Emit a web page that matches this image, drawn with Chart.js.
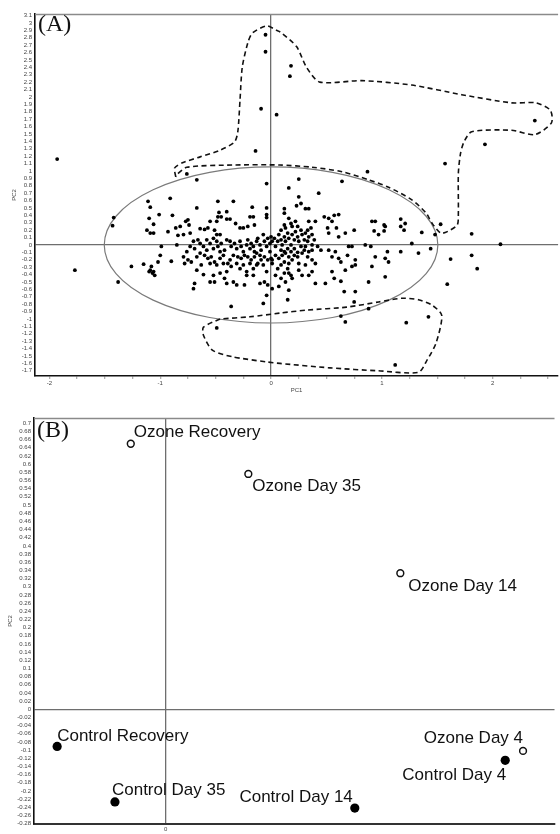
<!DOCTYPE html>
<html>
<head>
<meta charset="utf-8">
<script src="https://cdn.jsdelivr.net/npm/chart.js@4.4.0/dist/chart.umd.min.js"></script>
<style>
html, body { margin: 0; padding: 0; background: #fff; }
#wrapA { position: absolute; left: 0; top: 0; width: 560px; height: 400px; }
#wrapB { position: absolute; left: 0; top: 400px; width: 560px; height: 434px; }
</style>
</head>
<body>
<div id="wrapA"><canvas id="chartA" width="560" height="400"></canvas></div>
<div id="wrapB"><canvas id="chartB" width="560" height="434"></canvas></div>
<script>
// (A) PCA scores - PC1 / PC2
var pc1A = [
  -0.67,-0.04,0.25,0.16,0.64,0.43,0.25,-0.91,-1.11,-1.09,-0.48,-0.34,-0.17,-0.04,0.12,0.23,0.27,0.31,0.34,-0.67,
  -0.40,-0.47,-0.45,-0.48,-1.01,-0.89,-1.42,-1.43,-1.10,-1.06,-1.12,-1.09,-1.06,-0.93,-0.86,-0.82,-0.77,-0.75,-0.74,-0.79,
  -0.84,-0.73,-0.64,-0.60,-0.57,-0.51,-0.49,-0.46,-0.55,-0.49,-0.40,-0.37,-0.32,-0.28,-0.25,-0.21,-0.19,-0.16,-0.15,-0.04,
  -0.04,0.12,0.16,0.18,0.19,0.13,0.09,0.12,0.22,0.24,0.27,0.34,0.33,0.40,0.48,0.52,0.57,0.61,0.55,0.51,
  0.59,0.52,0.61,0.67,0.75,0.91,0.94,1.02,1.03,1.17,1.21,1.17,1.20,1.36,1.48,0.93,0.97,1.02,0.85,0.90,
  1.27,1.44,1.33,1.17,1.05,1.03,1.06,0.94,0.91,1.03,0.76,0.70,0.73,0.69,0.61,0.63,0.55,0.58,0.52,0.45,
  0.42,0.37,0.37,0.34,0.31,0.33,0.37,0.40,0.37,0.34,0.31,0.25,0.24,0.21,0.19,0.16,0.15,0.16,0.19,0.13,
  0.18,0.25,0.28,0.40,0.49,0.55,0.57,0.63,0.67,0.73,0.76,0.88,0.66,0.76,0.75,0.88,-0.40,-0.37,-0.36,-0.33,
  -0.31,-0.28,-0.27,-0.25,-0.22,-0.21,-0.19,-0.18,-0.16,-0.15,-0.13,-0.12,-0.10,-0.09,-0.07,-0.06,-0.04,-0.03,-0.01,-0.01,
  0.00,0.01,0.03,0.04,0.06,0.07,0.09,0.10,0.12,0.13,0.15,0.16,0.18,0.19,0.21,0.22,0.24,0.25,0.27,0.28,
  0.30,0.31,0.33,0.34,0.36,0.37,0.39,0.00,0.01,-0.03,-0.06,-0.09,-0.12,-0.15,-0.18,-0.21,-0.24,-0.27,-0.30,-0.34,
  -0.37,-0.39,-0.36,-0.31,-0.28,-0.25,-0.22,-0.19,-0.16,-0.13,-0.07,-0.04,0.01,0.04,0.07,0.10,0.13,0.16,0.09,0.12,
  0.06,0.09,0.12,0.15,0.18,0.21,0.24,0.28,0.30,-0.10,-0.13,-0.49,-0.48,-0.46,-0.52,-0.55,-0.58,-0.61,-0.64,-0.66,
  -0.69,-0.64,-0.60,-0.57,-0.54,-0.51,-0.46,-0.43,-0.42,-0.45,-0.52,-0.58,-0.70,-0.73,-0.76,-0.79,-0.75,-0.72,-0.78,-0.67,
  -0.63,-0.55,-0.49,-0.43,-0.40,-0.46,-0.52,-0.61,-0.67,-0.69,-0.70,-0.55,-0.51,-0.42,-0.40,-0.34,-0.31,-0.24,-0.22,-0.16,
  -0.10,-0.06,-0.03,-0.07,-0.04,0.01,0.07,0.16,0.15,-0.36,0.04,0.09,0.12,-1.00,-0.99,-0.85,-0.90,-1.02,-1.15,-1.26,
  -1.08,-1.09,-1.06,-1.05,-1.07,-1.10,-1.38,
  -1.93,-0.05,-0.05,-0.09,0.05,-0.14,-0.76,0.18,0.17,2.38,1.93,1.57,0.87,2.07,1.81,1.81,1.86,1.62,1.59,1.53,
  0.63,0.67,1.22,1.42,1.12,-0.49,-1.77
];
var pc2A = [
  0.88,0.83,0.89,0.77,0.86,0.70,0.65,0.63,0.59,0.51,0.59,0.59,0.51,0.50,0.49,0.53,0.56,0.49,0.49,0.50,
  0.45,0.44,0.38,0.38,0.41,0.40,0.37,0.26,0.36,0.28,0.20,0.16,0.16,0.18,0.23,0.25,0.32,0.34,0.27,0.14,
  0.13,0.16,0.22,0.21,0.23,0.20,0.14,0.14,0.32,0.32,0.35,0.35,0.29,0.23,0.23,0.25,0.38,0.38,0.27,0.41,
  0.37,0.43,0.36,0.29,0.25,0.23,0.20,0.27,0.32,0.25,0.20,0.32,0.20,0.32,0.38,0.36,0.40,0.41,0.32,0.23,
  0.23,0.16,0.11,0.16,0.20,0.32,0.32,0.27,0.25,0.35,0.29,0.25,0.20,0.17,0.14,0.19,0.14,0.19,0.00,-0.02,
  0.02,-0.05,-0.11,-0.09,-0.09,-0.18,-0.23,-0.16,-0.29,-0.43,-0.20,-0.02,-0.02,-0.14,-0.18,-0.23,-0.16,-0.09,-0.07,-0.07,
  -0.02,0.00,-0.07,-0.09,-0.02,-0.16,-0.20,-0.25,-0.36,-0.41,-0.27,-0.25,-0.16,-0.14,-0.20,-0.25,-0.32,-0.38,-0.45,-0.50,
  -0.41,-0.34,-0.41,-0.52,-0.52,-0.36,-0.45,-0.49,-0.34,-0.29,-0.27,-0.50,-0.63,-0.63,-0.77,-0.86,0.07,0.05,-0.02,0.02,
  -0.05,0.05,-0.02,-0.09,0.00,0.07,-0.05,0.02,-0.02,-0.09,0.05,0.09,0.00,-0.07,0.14,0.05,-0.02,0.09,0.02,-0.09,
  0.11,0.05,0.09,-0.02,0.05,0.14,0.07,0.00,0.11,0.05,0.16,0.09,0.00,0.14,0.07,0.18,0.11,0.05,-0.02,0.14,
  0.07,0.16,0.05,0.11,0.23,0.14,0.07,-0.18,-0.25,-0.20,-0.16,-0.20,-0.25,-0.16,-0.20,-0.16,-0.14,-0.18,-0.16,-0.14,
  -0.20,-0.25,-0.29,-0.25,-0.32,-0.27,-0.36,-0.25,-0.32,-0.27,-0.27,-0.36,-0.20,-0.14,-0.18,-0.14,-0.11,-0.16,-0.27,-0.23,
  -0.32,-0.07,-0.09,-0.05,-0.09,-0.05,-0.10,-0.11,-0.07,-0.14,-0.11,0.05,-0.02,-0.09,-0.05,0.02,-0.07,-0.02,0.02,0.07,
  -0.05,-0.11,-0.14,-0.18,-0.16,-0.23,-0.18,-0.14,-0.07,0.02,0.09,0.07,0.05,-0.02,-0.09,-0.16,-0.20,-0.23,-0.25,-0.16,
  -0.27,-0.25,-0.27,-0.25,-0.36,-0.38,-0.41,-0.40,-0.34,-0.52,-0.59,-0.50,-0.50,-0.45,-0.52,-0.50,-0.54,-0.54,-0.41,-0.41,
  -0.52,-0.50,-0.54,-0.79,-0.68,-0.59,-0.56,-0.61,-0.74,-0.83,-0.41,-0.45,-0.38,-0.14,-0.02,0.00,-0.22,-0.23,-0.26,-0.29,
  -0.29,-0.34,-0.36,-0.41,-0.38,-0.36,-0.50,
  1.16,2.84,2.61,1.84,1.76,1.27,0.96,2.42,2.28,1.68,1.36,1.10,0.99,0.01,0.15,-0.14,-0.32,-0.19,-0.53,0.28,
  -0.96,-1.04,-1.05,-0.97,-1.62,-1.12,-0.34
];

// group outlines drawn on (A)
var outlineUpper = [
  [-0.86,0.92],[-0.87,1.04],[-0.80,1.11],[-0.64,1.19],[-0.46,1.28],[-0.33,1.39],[-0.30,1.53],[-0.28,1.96],
  [-0.26,2.40],[-0.21,2.73],[-0.17,2.86],[-0.04,2.96],[0.05,2.90],[0.08,2.88],[0.23,2.68],[0.32,2.40],
  [0.44,2.20],[0.82,2.22],[1.27,2.16],[1.72,2.03],[2.17,1.92],[2.39,1.92],[2.52,1.82],[2.53,1.65],
  [2.38,1.49],[2.17,1.55],[1.81,1.53],[1.74,1.39],[1.71,1.24],[1.69,0.97],[1.69,0.43],[1.68,0.27],
  [1.59,0.18],[1.53,0.16],[1.45,0.30],[1.40,0.43],[1.27,0.61],[1.06,0.78],[0.88,0.88],[0.64,0.99],
  [0.37,1.05],[0.08,1.08],[-0.35,1.08],[-0.76,1.05],[-0.85,0.95],[-0.86,0.92]
];
var outlineLower = [
  [-0.46,-1.00],[-0.61,-1.11],[-0.61,-1.22],[-0.53,-1.42],[-0.35,-1.51],[-0.04,-1.58],[0.08,-1.60],[0.53,-1.66],
  [0.97,-1.70],[1.33,-1.72],[1.41,-1.55],[1.49,-1.32],[1.54,-0.95],[1.45,-0.81],[1.33,-0.74],[1.18,-0.72],
  [0.97,-0.77],[0.68,-0.84],[0.32,-0.88],[0.08,-0.92],[-0.19,-0.97],[-0.46,-1.00]
];
var ellipseA = { cx: 0, cy: 0, rx: 1.505, ry: 1.054 };

var xTicksA = [-2,-1.75,-1.5,-1.25,-1,-0.75,-0.5,-0.25,0,0.25,0.5,0.75,1,1.25,1.5,1.75,2,2.25,2.5];
var yTicksA = [3.1,3,2.9,2.8,2.7,2.6,2.5,2.4,2.3,2.2,2.1,2,1.9,1.8,1.7,1.6,1.5,1.4,1.3,1.2,1.1,1,
  0.9,0.8,0.7,0.6,0.5,0.4,0.3,0.2,0.1,0,-0.1,-0.2,-0.3,-0.4,-0.5,-0.6,-0.7,-0.8,-0.9,-1,
  -1.1,-1.2,-1.3,-1.4,-1.5,-1.6,-1.7];

// (B) group centroids
var namesB = ['Ozone Recovery','Ozone Day 35','Ozone Day 14','Ozone Day 4',
              'Control Recovery','Control Day 35','Control Day 14','Control Day 4'];
var groupB = ['ozone','ozone','ozone','ozone','control','control','control','control'];
var pc1B = [-0.088, 0.209, 0.593, 0.903, -0.274, -0.128, 0.478, 0.858];
var pc2B = [0.650, 0.576, 0.333, -0.102, -0.091, -0.227, -0.242, -0.125];
// where each name sits next to its point
var labelPlaceB = [
  {align:'left', dx:3, dy:-11}, {align:'left', dx:4, dy:12}, {align:'left', dx:8, dy:13}, {align:'right', dx:0, dy:-13},
  {align:'left', dx:0, dy:-10}, {align:'left', dx:-3, dy:-12}, {align:'right', dx:-2, dy:-11}, {align:'right', dx:1, dy:15}
];
var xTicksB = [0];
var yTicksB = [0.7,0.68,0.66,0.64,0.62,0.6,0.58,0.56,0.54,0.52,0.5,0.48,0.46,0.44,0.42,0.4,0.38,0.36,0.34,0.32,
  0.3,0.28,0.26,0.24,0.22,0.2,0.18,0.16,0.14,0.12,0.1,0.08,0.06,0.04,0.02,0,
  -0.02,-0.04,-0.06,-0.08,-0.1,-0.12,-0.14,-0.16,-0.18,-0.2,-0.22,-0.24,-0.26,-0.28];

var tickFont = { family: '"Liberation Sans", Arial, sans-serif', size: 6 };
var zeroLine = function(c) { return c.tick && c.tick.value === 0 ? '#6e6e6e' : 'rgba(0,0,0,0)'; };

// top frame line and the (A)/(B) tag
var framePlugin = {
  id: 'frame',
  afterDraw: function(chart, args, opts) {
    var ctx = chart.ctx, a = chart.chartArea;
    ctx.save();
    ctx.strokeStyle = '#8a8a8a';
    ctx.lineWidth = 1.3;
    ctx.beginPath();
    ctx.moveTo(a.left, a.top + 0.5);
    ctx.lineTo(a.right, a.top + 0.5);
    ctx.stroke();
    ctx.fillStyle = '#111';
    ctx.font = '24px "Liberation Serif", "Times New Roman", serif';
    ctx.textAlign = 'left';
    ctx.textBaseline = 'alphabetic';
    ctx.fillText(opts.tag, a.left + 3, a.top + opts.base);
    ctx.restore();
  }
};

var ellipsePlugin = {
  id: 'ellipse',
  beforeDatasetsDraw: function(chart) {
    var xs = chart.scales.x, ys = chart.scales.y, ctx = chart.ctx;
    var cx = xs.getPixelForValue(ellipseA.cx), cy = ys.getPixelForValue(ellipseA.cy);
    var rx = Math.abs(xs.getPixelForValue(ellipseA.cx + ellipseA.rx) - cx);
    var ry = Math.abs(ys.getPixelForValue(ellipseA.cy + ellipseA.ry) - cy);
    ctx.save();
    ctx.strokeStyle = '#7a7a7a';
    ctx.lineWidth = 1.2;
    ctx.beginPath();
    ctx.ellipse(cx, cy, rx, ry, 0, 0, Math.PI * 2);
    ctx.stroke();
    ctx.restore();
  }
};

var pointsA = pc1A.map(function(v, i) { return { x: v, y: pc2A[i] }; });
var toXY = function(p) { return { x: p[0], y: p[1] }; };

new Chart(document.getElementById('chartA').getContext('2d'), {
  type: 'scatter',
  data: {
    datasets: [
      { data: pointsA, pointRadius: 1.9, pointBackgroundColor: '#000', pointBorderWidth: 0, pointHoverRadius: 0 },
      { data: outlineUpper.map(toXY), showLine: true, pointRadius: 0, borderColor: '#111', borderWidth: 1.6,
        borderDash: [5, 3.5], tension: 0.25, fill: false },
      { data: outlineLower.map(toXY), showLine: true, pointRadius: 0, borderColor: '#111', borderWidth: 1.6,
        borderDash: [5, 3.5], tension: 0.25, fill: false }
    ]
  },
  options: {
    responsive: false,
    animation: false,
    devicePixelRatio: 1,
    layout: { padding: { top: 14, right: 0, left: 0, bottom: 0 } },
    plugins: { legend: { display: false }, tooltip: { enabled: false }, frame: { tag: '(A)', base: 17 } },
    scales: {
      x: {
        type: 'linear', min: -2.13, max: 2.59,
        afterFit: function(s) { s.height = 24; },
        afterBuildTicks: function(s) { s.ticks = xTicksA.map(function(v) { return { value: v }; }); },
        ticks: { autoSkip: false, maxRotation: 0, padding: 1, font: tickFont, color: '#444',
          callback: function(v) { return Number.isInteger(v) ? String(v) : ''; } },
        grid: { color: zeroLine, lineWidth: 1.3, tickColor: '#b0b0b0', tickLength: 3 },
        border: { color: '#111', width: 1.6 },
        title: { display: true, text: 'PC1', font: tickFont, color: '#444', padding: { top: 0, bottom: 6 } }
      },
      y: {
        type: 'linear', min: -1.77, max: 3.12,
        afterFit: function(s) { s.width = 35; },
        afterBuildTicks: function(s) { s.ticks = yTicksA.map(function(v) { return { value: v }; }); },
        ticks: { autoSkip: false, padding: 3, font: tickFont, color: '#444',
          callback: function(v) { return String(v); } },
        grid: { color: zeroLine, lineWidth: 1.3, drawTicks: false },
        border: { color: '#111', width: 1.6 },
        title: { display: true, text: 'PC2', font: tickFont, color: '#444', padding: { top: 11, bottom: 0 } }
      }
    }
  },
  plugins: [ellipsePlugin, framePlugin]
});

// names next to the (B) points
var namePlugin = {
  id: 'names',
  afterDatasetsDraw: function(chart) {
    var xs = chart.scales.x, ys = chart.scales.y, ctx = chart.ctx;
    ctx.save();
    ctx.fillStyle = '#111';
    ctx.font = '17px "Liberation Sans", Arial, Helvetica, sans-serif';
    ctx.textBaseline = 'middle';
    namesB.forEach(function(name, i) {
      var p = labelPlaceB[i];
      ctx.textAlign = p.align;
      ctx.fillText(name, xs.getPixelForValue(pc1B[i]) + p.dx, ys.getPixelForValue(pc2B[i]) + p.dy);
    });
    ctx.restore();
  }
};

var pick = function(g) {
  var out = [];
  pc1B.forEach(function(v, i) { if (groupB[i] === g) out.push({ x: v, y: pc2B[i] }); });
  return out;
};

new Chart(document.getElementById('chartB').getContext('2d'), {
  type: 'scatter',
  data: {
    datasets: [
      { label: 'Ozone', data: pick('ozone'), pointRadius: 3.4, pointBorderWidth: 1.5,
        pointBorderColor: '#111', pointBackgroundColor: '#fff' },
      { label: 'Control', data: pick('control'), pointRadius: 4.6, pointBorderWidth: 0,
        pointBackgroundColor: '#000' }
    ]
  },
  options: {
    responsive: false,
    animation: false,
    devicePixelRatio: 1,
    layout: { padding: { top: 18, right: 0, left: 0, bottom: 0 } },
    plugins: { legend: { display: false }, tooltip: { enabled: false }, frame: { tag: '(B)', base: 19 } },
    scales: {
      x: {
        type: 'linear', min: -0.3325, max: 0.9825,
        afterFit: function(s) { s.height = 10; },
        afterBuildTicks: function(s) { s.ticks = xTicksB.map(function(v) { return { value: v }; }); },
        ticks: { autoSkip: false, maxRotation: 0, padding: 2, font: tickFont, color: '#444',
          callback: function(v) { return String(v); } },
        grid: { color: zeroLine, lineWidth: 1.3, drawTicks: false },
        border: { color: '#333', width: 2 }
      },
      y: {
        type: 'linear', min: -0.281, max: 0.713,
        afterFit: function(s) { s.width = 34; },
        afterBuildTicks: function(s) { s.ticks = yTicksB.map(function(v) { return { value: v }; }); },
        ticks: { autoSkip: false, padding: 3, font: tickFont, color: '#444',
          callback: function(v) { return String(v); } },
        grid: { color: zeroLine, lineWidth: 1.3, drawTicks: false },
        border: { color: '#111', width: 1.6 },
        title: { display: true, text: 'PC2', font: tickFont, color: '#444', padding: { top: 7, bottom: 0 } }
      }
    }
  },
  plugins: [namePlugin, framePlugin]
});
</script>
</body>
</html>
